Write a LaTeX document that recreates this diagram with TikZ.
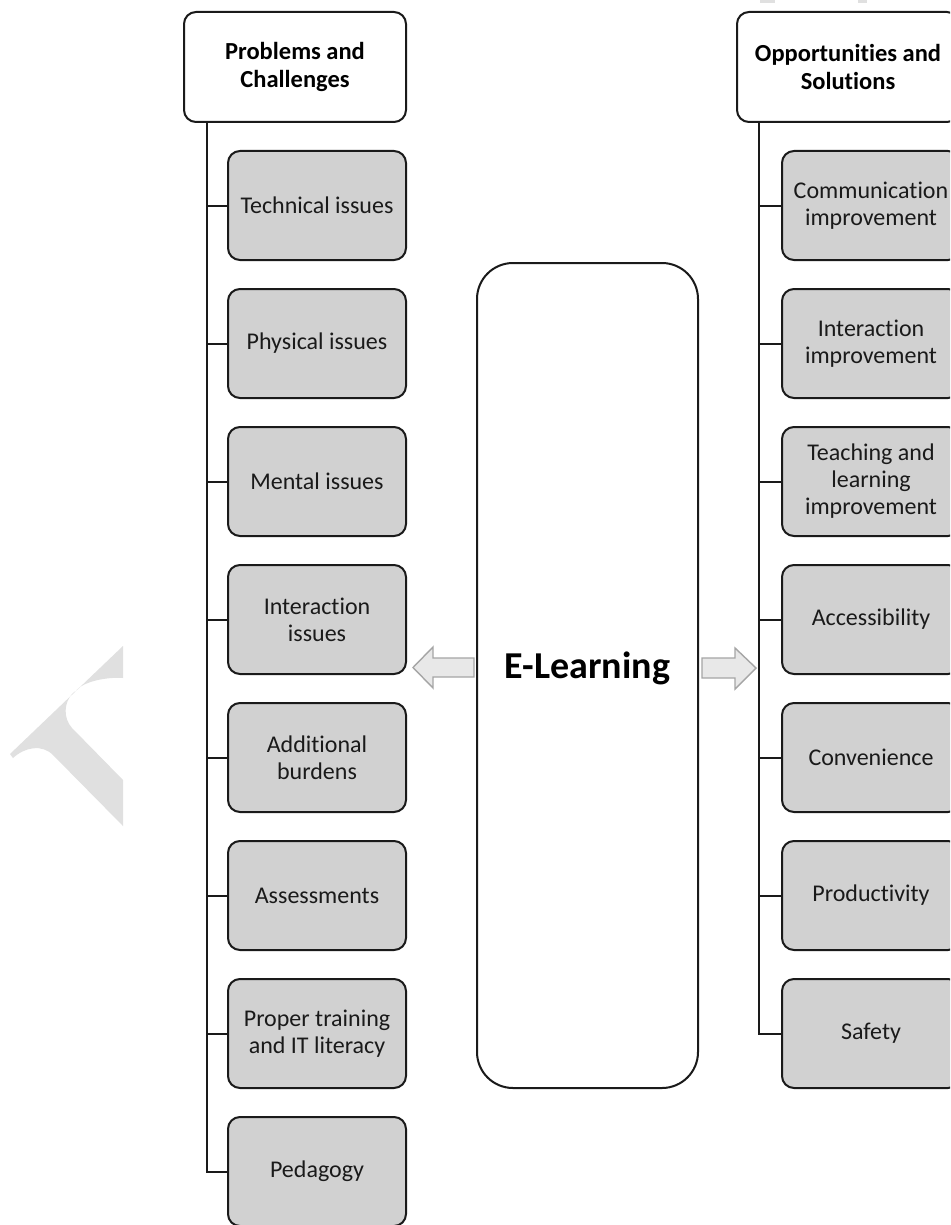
\documentclass[tikz,border=0pt]{standalone}
\usepackage{fontspec}
\setmainfont[Ligatures=NoCommon]{Carlito}
\definecolor{boxgray}{RGB}{209,209,209}
\definecolor{inkgray}{RGB}{26,26,26}
\definecolor{arrowfill}{RGB}{232,232,232}
\definecolor{arrowedge}{RGB}{165,165,165}
\definecolor{markgray}{RGB}{224,224,224}
\begin{document}
\begin{tikzpicture}[x=1pt,y=-1pt,
  item/.style={draw=inkgray, line width=2pt, fill=boxgray, rounded corners=12pt,
    minimum width=178pt, minimum height=109pt, inner sep=0pt, align=center,
    text=inkgray, font=\fontsize{24}{27}\selectfont},
  header/.style={item, fill=white, minimum width=222pt, minimum height=110pt,
    font=\bfseries\fontsize{24.5}{27.5}\selectfont, text=black},
  trunk/.style={draw=inkgray, line width=2pt},
  blockarrow/.style={draw=arrowedge, fill=arrowfill, line width=1.4pt, line join=miter},
]
\useasboundingbox (0,0) rectangle (950,1225);
\clip (0,0) rectangle (950,1225);
\fill[white] (0,0) rectangle (950,1225);

% faint background lettering
\fill[markgray] (123,646) -- (10,754) -- (13,758)
  .. controls (25,747) and (42,744) .. (53,755) -- (123,826) -- (123,780) -- (72,728)
  .. controls (63,718) and (64,703) .. (72,694) -- (80,687)
  .. controls (90,680) and (110,677) .. (123,678) -- cycle;
\draw[white, line width=1.2pt] (73,688) -- (79,694);
\fill[markgray] (760,0) rectangle (775,3);
\fill[markgray] (858,0) rectangle (867,3);

% left column: problems and challenges
\node[header] (ph) at (295,67) {Problems and\\Challenges};
\node[item] (p1) at (317,205.5) {Technical issues};
\node[item] (p2) at (317,343.5) {Physical issues};
\node[item] (p3) at (317,481.5) {Mental issues};
\node[item] (p4) at (317,619.5) {Interaction\\issues};
\node[item] (p5) at (317,757.5) {Additional\\burdens};
\node[item] (p6) at (317,895.5) {Assessments};
\node[item] (p7) at (317,1033.5) {Proper training\\and IT literacy};
\node[item] (p8) at (317,1171.5) {Pedagogy};

% right column: opportunities and solutions
\node[header] (oh) at (848,67) {Opportunities and\\Solutions};
\node[item] (o1) at (871,205.5) {Communication\\improvement};
\node[item] (o2) at (871,343.5) {Interaction\\improvement};
\node[item] (o3) at (871,481.5) {Teaching and\\learning\\improvement};
\node[item] (o4) at (871,619.5) {Accessibility};
\node[item] (o5) at (871,757.5) {Convenience};
\node[item] (o6) at (871,895.5) {Productivity};
\node[item] (o7) at (871,1033.5) {Safety};

% tree trunks and branches
\coordinate (lt) at (207,0);
\coordinate (rt) at (759,0);
\draw[trunk] (lt |- ph.south) |- (p8.west);
\foreach \n in {p1,p2,p3,p4,p5,p6,p7} \draw[trunk] (lt |- \n.west) -- (\n.west);
\draw[trunk] (rt |- oh.south) |- (o7.west);
\foreach \n in {o1,o2,o3,o4,o5,o6} \draw[trunk] (rt |- \n.west) -- (\n.west);

% central box
\node[draw=inkgray, line width=2pt, rounded corners=36pt, minimum width=221pt,
  minimum height=825pt, fill=white] (el) at (587.5,675.5) {};
\node[font=\bfseries\fontsize{38}{40}\selectfont, text=black, inner sep=0pt]
  (eltitle) at (587.5,668.5) {E-Learning};

% block arrows
\draw[blockarrow] (474,658) -- (433,658) -- (433,647) -- (413,667.5) -- (433,688)
  -- (433,677) -- (474,677) -- cycle;
\draw[blockarrow] (702,658) -- (735,658) -- (735,648) -- (756,668) -- (735,689)
  -- (735,678) -- (702,678) -- cycle;
\end{tikzpicture}
\end{document}
